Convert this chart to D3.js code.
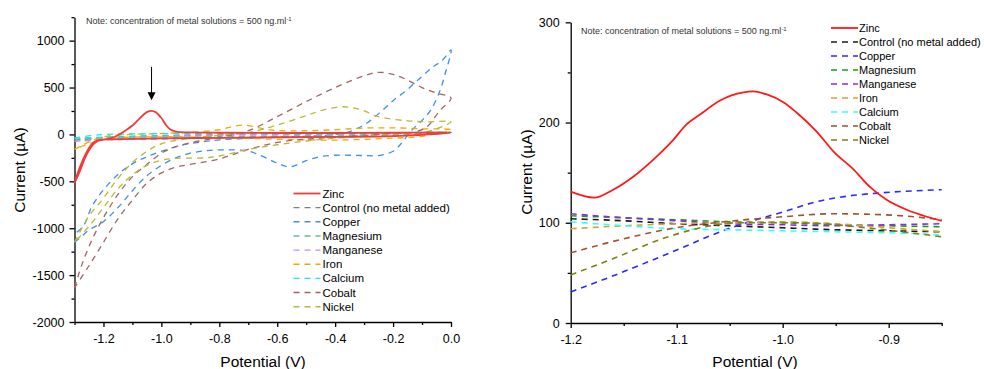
<!DOCTYPE html>
<html>
<head>
<meta charset="utf-8">
<script src="https://cdn.jsdelivr.net/npm/d3@7"></script>
<style>
  body { margin: 0; background: #fff; }
  svg { font-family: "Liberation Sans", Arial, sans-serif; }
  .axis path, .axis line { stroke: #000; stroke-width: 1.3; }
  .axis text { font-size: 12.5px; fill: #000; }
</style>
</head>
<body>
<svg id="chart" width="984" height="369"></svg>
<script>
"use strict";

// ---- legend / series names ----
const seriesNames = ["Zinc", "Control (no metal added)", "Copper", "Magnesium", "Manganese",
                     "Iron", "Calcium", "Cobalt", "Nickel"];

// ---- left panel: cyclic voltammograms, [potential V, current uA] ----
const cvZinc = [[-1.3,-520],[-1.28,-380],[-1.265,-260],[-1.25,-170],[-1.235,-105],[-1.215,-65],[-1.19,-50],
  [-1.16,-25],[-1.14,10],[-1.12,50],[-1.1,95],[-1.08,155],[-1.06,215],[-1.045,245],[-1.034,252],[-1.02,238],
  [-1.0,175],[-0.985,105],[-0.97,55],[-0.95,30],[-0.9,22],[-0.8,18],[-0.6,15],[-0.4,15],[-0.2,18],[0,20],
  [-0.2,-18],[-0.4,-26],[-0.6,-30],[-0.8,-36],[-1.0,-42],[-1.1,-48],[-1.18,-52],[-1.21,-58],[-1.23,-75],
  [-1.245,-120],[-1.26,-200],[-1.275,-300],[-1.29,-420],[-1.3,-520]];
const cvControl = [[-1.3,-60],[-1.2,-35],[-1.0,-15],[-0.8,-5],[-0.6,0],[-0.4,5],[-0.2,10],[0,20],
  [-0.2,-12],[-0.4,-22],[-0.6,-30],[-0.8,-38],[-1.0,-45],[-1.2,-52],[-1.3,-60]];
const cvCopper = [[-1.3,-1150],[-1.28,-1100],[-1.25,-1020],[-1.2,-930],[-1.15,-780],[-1.1,-600],[-1.05,-440],
  [-1.0,-330],[-0.95,-250],[-0.9,-200],[-0.85,-175],[-0.8,-165],[-0.75,-165],[-0.7,-178],[-0.65,-235],
  [-0.6,-305],[-0.557,-345],[-0.5,-280],[-0.45,-235],[-0.4,-222],[-0.35,-222],[-0.3,-225],[-0.25,-225],
  [-0.2,-180],[-0.17,-90],[-0.14,30],[-0.1,150],[-0.07,260],[-0.04,450],[-0.02,650],[0,900],
  [-0.03,790],[-0.062,720],[-0.1,620],[-0.152,475],[-0.2,360],[-0.235,262],[-0.29,122],[-0.35,30],
  [-0.4,0],[-0.5,-20],[-0.6,-30],[-0.7,-42],[-0.8,-58],[-0.86,-80],[-0.93,-115],[-1.0,-180],[-1.05,-240],
  [-1.09,-295],[-1.14,-400],[-1.2,-590],[-1.24,-770],[-1.27,-980],[-1.3,-1060]];
const cvMagnesium = [[-1.3,-50],[-1.2,-30],[-1.0,-12],[-0.8,-2],[-0.6,4],[-0.4,8],[-0.2,12],[0,22],
  [-0.2,-8],[-0.4,-18],[-0.6,-26],[-0.8,-34],[-1.0,-40],[-1.2,-45],[-1.3,-50]];
const cvManganese = [[-1.3,-75],[-1.2,-45],[-1.0,-20],[-0.8,-8],[-0.6,0],[-0.4,6],[-0.2,10],[0,18],
  [-0.2,-14],[-0.4,-24],[-0.6,-32],[-0.8,-40],[-1.0,-48],[-1.2,-60],[-1.3,-75]];
const cvIron = [[-1.3,-160],[-1.25,-80],[-1.2,-25],[-1.1,0],[-1.0,10],[-0.9,22],[-0.8,50],[-0.72,100],
  [-0.65,62],[-0.6,42],[-0.5,40],[-0.4,50],[-0.3,68],[-0.2,70],[-0.1,60],[0,50],
  [-0.1,-20],[-0.2,-40],[-0.4,-60],[-0.6,-52],[-0.8,-35],[-1.0,-25],[-1.2,-55],[-1.3,-160]];
const cvCalcium = [[-1.3,-38],[-1.22,-5],[-1.1,5],[-0.9,10],[-0.7,12],[-0.5,14],[-0.3,16],[0,24],
  [-0.3,-4],[-0.5,-12],[-0.7,-20],[-0.9,-26],[-1.1,-30],[-1.22,-32],[-1.3,-38]];
const cvCobalt = [[-1.3,-1635],[-1.27,-1350],[-1.22,-1000],[-1.15,-640],[-1.1,-450],[-1.05,-320],[-1.0,-200],
  [-0.95,-130],[-0.9,-90],[-0.8,-30],[-0.7,40],[-0.6,190],[-0.5,350],[-0.4,500],[-0.3,625],[-0.25,662],
  [-0.2,640],[-0.15,580],[-0.1,500],[-0.05,440],[0,390],
  [-0.04,250],[-0.08,90],[-0.12,30],[-0.2,10],[-0.3,-10],[-0.4,-30],[-0.5,-50],[-0.6,-85],[-0.7,-160],
  [-0.8,-260],[-0.9,-320],[-0.95,-350],[-1.0,-410],[-1.05,-520],[-1.1,-700],[-1.15,-900],[-1.2,-1150],
  [-1.25,-1400],[-1.3,-1635]];
const cvNickel = [[-1.3,-1150],[-1.25,-870],[-1.2,-680],[-1.15,-470],[-1.1,-300],[-1.05,-180],[-1.0,-100],
  [-0.9,-40],[-0.8,-10],[-0.7,20],[-0.6,100],[-0.5,200],[-0.44,262],[-0.37,295],[-0.31,262],[-0.25,190],
  [-0.15,145],[-0.08,135],[0,135],
  [-0.05,60],[-0.1,20],[-0.2,0],[-0.3,-20],[-0.4,-40],[-0.5,-70],[-0.6,-110],[-0.7,-160],[-0.8,-230],
  [-0.85,-250],[-0.95,-255],[-1.0,-275],[-1.05,-330],[-1.1,-430],[-1.15,-580],[-1.2,-780],[-1.25,-980],
  [-1.3,-1150]];

// ---- right panel: peak region, [potential V, current uA] ----
const pkZinc = [[-1.2,131],[-1.178,125],[-1.16,133],[-1.141,146],[-1.119,166],[-1.103,183],[-1.091,198],
  [-1.078,208],[-1.059,222],[-1.037,230],[-1.028,231],[-1.015,228],[-0.999,220],[-0.987,210],[-0.968,191],
  [-0.952,171],[-0.933,153],[-0.918,136],[-0.902,123],[-0.883,113],[-0.864,106],[-0.85,102]];
const pkControl = [[-1.2,104],[-1.15,102],[-1.1,99],[-1.05,97],[-1.0,95],[-0.95,93],[-0.9,92],[-0.85,91]];
const pkCopper = [[-1.2,31],[-1.165,45],[-1.127,61],[-1.095,75],[-1.073,85],[-1.054,93],[-1.025,103],
  [-0.999,111],[-0.968,121],[-0.936,127],[-0.905,130],[-0.85,133]];
const pkMagnesium = [[-1.2,107],[-1.15,105],[-1.1,103],[-1.05,101],[-1.0,100],[-0.95,98],[-0.9,97],[-0.85,96]];
const pkManganese = [[-1.2,109],[-1.15,105],[-1.1,102],[-1.05,99],[-1.0,98],[-0.95,97],[-0.9,98],[-0.85,99]];
const pkIron = [[-1.2,94],[-1.15,97],[-1.1,99],[-1.05,100],[-1.0,101],[-0.95,99],[-0.9,95],[-0.85,91]];
const pkCalcium = [[-1.2,101],[-1.15,97],[-1.1,94],[-1.05,93],[-1.0,92],[-0.95,91],[-0.9,90],[-0.85,88]];
const pkCobalt = [[-1.2,70],[-1.142,86],[-1.095,96],[-1.064,100],[-1.0,106],[-0.952,109],[-0.905,108],
  [-0.858,104],[-0.85,103]];
const pkNickel = [[-1.2,48],[-1.158,65],[-1.111,85],[-1.073,96],[-1.042,100],[-0.985,100],[-0.921,95],
  [-0.88,90],[-0.85,86]];

// ---- axes ticks ----
const leftXTicks = [-1.2, -1.0, -0.8, -0.6, -0.4, -0.2, 0.0];
const leftXMinor = [-1.3, -1.1, -0.9, -0.7, -0.5, -0.3, -0.1];
const leftYTicks = [-2000, -1500, -1000, -500, 0, 500, 1000];
const leftYMinor = [-1750, -1250, -750, -250, 250, 750, 1250];
const rightXTicks = [-1.2, -1.1, -1.0, -0.9];
const rightXMinor = [-1.15, -1.05, -0.95, -0.85];
const rightYTicks = [0, 100, 200, 300];
const rightYMinor = [50, 150, 250];

const arrowAt = { v: -1.034, from: 720, to: 365 };

const leftColors = ["#f03c3c", "#7f7f7f", "#3d8fe8", "#5ec18e", "#c48ef0", "#f2a800", "#22e2e2", "#a06666", "#b8b838"];
const rightColors = ["#ff1a1a", "#1a1a1a", "#2a2aff", "#14a014", "#8a2be2", "#d8a030", "#33ffff", "#a0522d", "#808010"];

const svg = d3.select("#chart");

function drawPanel(cfg) {
  const x = d3.scaleLinear().domain(cfg.xDomain).range(cfg.xRange);
  const y = d3.scaleLinear().domain(cfg.yDomain).range(cfg.yRange);
  const g = svg.append("g");

  // minor ticks first
  g.append("g").attr("class", "axis")
    .attr("transform", "translate(0," + cfg.yRange[0] + ")")
    .call(d3.axisBottom(x).tickValues(cfg.xMinor).tickSize(3).tickFormat(""))
    .select(".domain").remove();
  g.append("g").attr("class", "axis")
    .attr("transform", "translate(" + cfg.xRange[0] + ",0)")
    .call(d3.axisLeft(y).tickValues(cfg.yMinor).tickSize(3).tickFormat(""))
    .select(".domain").remove();

  g.append("g").attr("class", "axis")
    .attr("transform", "translate(0," + cfg.yRange[0] + ")")
    .call(d3.axisBottom(x).tickValues(cfg.xTicks).tickSize(5).tickSizeOuter(0).tickPadding(7)
      .tickFormat(d => d.toFixed(1)));
  g.append("g").attr("class", "axis")
    .attr("transform", "translate(" + cfg.xRange[0] + ",0)")
    .call(d3.axisLeft(y).tickValues(cfg.yTicks).tickSize(5).tickSizeOuter(0).tickPadding(cfg.yPad)
      .tickFormat(d => String(d)));

  // axis titles
  g.append("text")
    .attr("x", cfg.xTitle[0]).attr("y", cfg.xTitle[1])
    .attr("text-anchor", "middle").attr("font-size", "15.5px")
    .text("Potential (V)");
  g.append("text")
    .attr("transform", "translate(" + cfg.yTitle[0] + "," + cfg.yTitle[1] + ") rotate(-90)")
    .attr("text-anchor", "middle").attr("dy", "0.35em").attr("font-size", "15.5px")
    .text("Current (\u00b5A)");

  // note
  const note = g.append("text")
    .attr("x", cfg.note[0]).attr("y", cfg.note[1])
    .attr("font-size", "9px").attr("fill", "#333");
  note.append("tspan").text("Note: concentration of metal solutions = 500 ng.ml");
  note.append("tspan").attr("font-size", "6px").attr("dy", "-3.5").text("-1");

  const line = d3.line()
    .x(d => x(d[0])).y(d => y(d[1]))
    .curve(cfg.curve);

  // draw dashed series first, then zinc on top
  const order = [1, 2, 3, 4, 5, 6, 7, 8, 0];
  order.forEach(i => {
    g.append("path")
      .datum(cfg.series[i])
      .attr("d", line)
      .attr("fill", "none")
      .attr("stroke", cfg.colors[i])
      .attr("stroke-width", i === 0 ? 1.8 : cfg.dashWidth)
      .attr("stroke-dasharray", i === 0 ? null : "6,5");
  });

  // legend
  const leg = g.append("g");
  seriesNames.forEach((name, i) => {
    const ly = cfg.legend[1] + i * cfg.legend[3];
    leg.append("line")
      .attr("x1", cfg.legend[0]).attr("x2", cfg.legend[0] + 27)
      .attr("y1", ly).attr("y2", ly)
      .attr("stroke", cfg.colors[i])
      .attr("stroke-width", i === 0 ? 1.8 : 1.4)
      .attr("stroke-dasharray", i === 0 ? null : "6,5");
    leg.append("text")
      .attr("x", cfg.legend[2]).attr("y", ly).attr("dy", "0.35em")
      .attr("font-size", cfg.legendFont)
      .text(name);
  });

  return { x: x, y: y, g: g };
}

const left = drawPanel({
  xDomain: [-1.3, 0.0], xRange: [74.5, 451],
  yDomain: [-2000, 1250], yRange: [322, 17.2],
  xTicks: leftXTicks, xMinor: leftXMinor, yTicks: leftYTicks, yMinor: leftYMinor, yPad: 5,
  xTitle: [263, 366.5], yTitle: [20, 170],
  note: [86, 24],
  series: [cvZinc, cvControl, cvCopper, cvMagnesium, cvManganese, cvIron, cvCalcium, cvCobalt, cvNickel],
  colors: leftColors, dashWidth: 1.3,
  curve: d3.curveCatmullRom.alpha(0.5),
  legend: [293.5, 193.5, 322.5, 14.15], legendFont: "11.5px"
});

const right = drawPanel({
  xDomain: [-1.2, -0.85], xRange: [570.7, 941.7],
  yDomain: [0, 300], yRange: [323, 22.3],
  xTicks: rightXTicks, xMinor: rightXMinor, yTicks: rightYTicks, yMinor: rightYMinor, yPad: 6,
  xTitle: [755, 366.5], yTitle: [527, 172],
  note: [581, 34],
  series: [pkZinc, pkControl, pkCopper, pkMagnesium, pkManganese, pkIron, pkCalcium, pkCobalt, pkNickel],
  colors: rightColors, dashWidth: 1.6,
  curve: d3.curveMonotoneX,
  legend: [831, 28, 859, 14], legendFont: "11px"
});

// arrow pointing at the zinc stripping peak
const ax = left.x(arrowAt.v);
left.g.append("line")
  .attr("x1", ax).attr("x2", ax)
  .attr("y1", left.y(arrowAt.from)).attr("y2", left.y(arrowAt.to) - 7)
  .attr("stroke", "#000").attr("stroke-width", 1);
left.g.append("path")
  .attr("d", d3.line()([[ax - 4, left.y(arrowAt.to) - 8], [ax + 4, left.y(arrowAt.to) - 8], [ax, left.y(arrowAt.to)]]) + "Z")
  .attr("fill", "#000");
</script>
</body>
</html>
